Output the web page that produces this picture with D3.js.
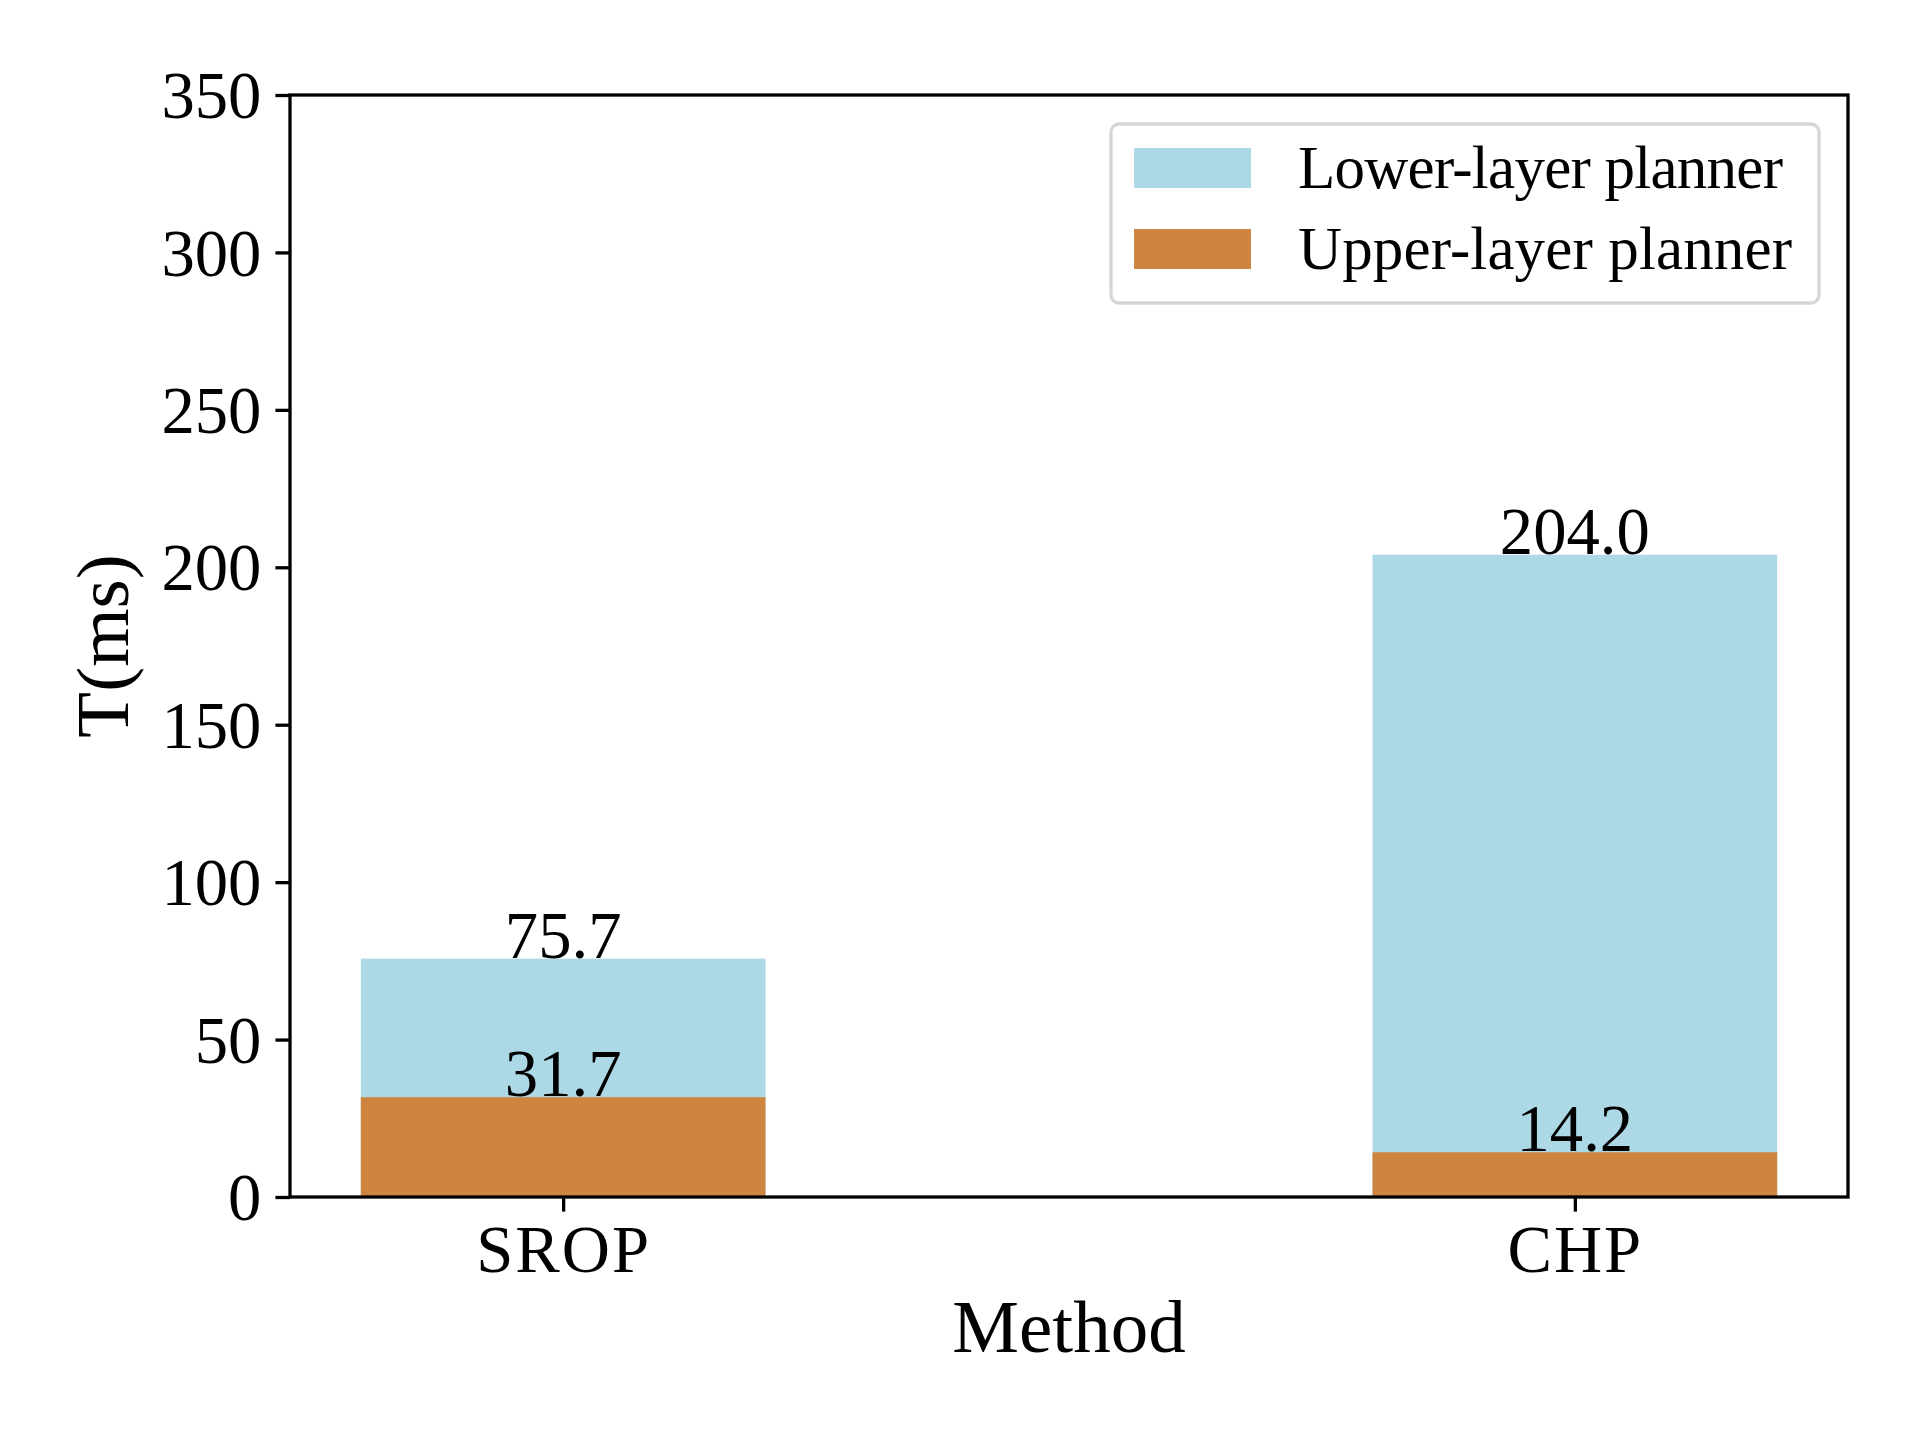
<!DOCTYPE html>
<html><head><meta charset="utf-8">
<script src="https://cdn.jsdelivr.net/npm/d3@7"></script>
<style>
html,body{margin:0;padding:0;background:#fff;}
text{font-family:"Liberation Serif","DejaVu Serif",serif;fill:#000;}
</style></head>
<body>
<script>
const categories = ["SROP", "CHP"];
const totalTime = [75.7, 204.0];      // Lower-layer planner bar (total height)
const upperTime = [31.7, 14.2];       // Upper-layer planner
const yTicks = [0, 50, 100, 150, 200, 250, 300, 350];
const seriesNames = ["Lower-layer planner", "Upper-layer planner"];
const colors = ["#ADD8E6", "#CD853F"];

const W = 1920, H = 1440;
const L = 290, R = 1848, T = 95, B = 1197;
const barW = 0.4;

const svg = d3.select("body").append("svg").attr("width", W).attr("height", H);

const x = d3.scaleLinear().domain([-0.27, 1.27]).range([L, R]);
const y = d3.scaleLinear().domain([0, 350]).range([B, T]);

// bars
const g = svg.append("g");
g.selectAll("rect.total").data(totalTime).enter().append("rect")
  .attr("x", (d,i) => x(i - barW/2)).attr("width", (d,i) => x(i + barW/2) - x(i - barW/2))
  .attr("y", d => y(d)).attr("height", d => y(0) - y(d)).attr("fill", colors[0]);
g.selectAll("rect.upper").data(upperTime).enter().append("rect")
  .attr("x", (d,i) => x(i - barW/2)).attr("width", (d,i) => x(i + barW/2) - x(i - barW/2))
  .attr("y", d => y(d)).attr("height", d => y(0) - y(d)).attr("fill", colors[1]);

// value labels
const fs = 66.7;
g.selectAll("text.tl").data(totalTime).enter().append("text")
  .attr("x", (d,i) => x(i)).attr("y", d => y(d) - 1).attr("text-anchor", "middle")
  .style("font-size", fs + "px").text(d => d.toFixed(1));
g.selectAll("text.ul").data(upperTime).enter().append("text")
  .attr("x", (d,i) => x(i)).attr("y", d => y(d) - 1).attr("text-anchor", "middle")
  .style("font-size", fs + "px").text(d => d.toFixed(1));

// axes
const sw = 3.3;
const yAxis = d3.axisLeft(y).tickValues(yTicks).tickSize(14.6).tickPadding(14).tickFormat(d3.format("d"));
const ya = svg.append("g").attr("transform", `translate(${L},0)`).call(yAxis);
ya.select(".domain").remove();
ya.selectAll(".tick line").attr("stroke", "#000").attr("stroke-width", sw);
ya.selectAll(".tick text").style("font-size", fs + "px").attr("dy", "0.34em");

const xAxis = d3.axisBottom(x).tickValues([0, 1]).tickFormat(i => categories[i]).tickSize(14.6).tickPadding(12);
const xa = svg.append("g").attr("transform", `translate(0,${B})`).call(xAxis);
xa.select(".domain").remove();
xa.selectAll(".tick line").attr("stroke", "#000").attr("stroke-width", sw);
xa.selectAll(".tick text").style("font-size", fs + "px").attr("dy", "0.72em").style("letter-spacing", "2px");

// frame
svg.append("rect").attr("x", L).attr("y", T).attr("width", R - L).attr("height", B - T)
  .attr("fill", "none").attr("stroke", "#000").attr("stroke-width", sw);

// axis labels
svg.append("text").attr("x", (L + R) / 2).attr("y", 1352).attr("text-anchor", "middle")
  .style("font-size", "75px").text("Method");
svg.append("text").attr("transform", `translate(128,${(T + B) / 2}) rotate(-90)`)
  .attr("text-anchor", "middle").style("font-size", "75px").text("T(ms)");

// legend
const lg = svg.append("g");
lg.append("rect").attr("x", 1111).attr("y", 124).attr("width", 708).attr("height", 179)
  .attr("rx", 8).attr("ry", 8).attr("fill", "#fff").attr("fill-opacity", 0.8)
  .attr("stroke", "#d6d6d6").attr("stroke-width", 3.3);
const rowsY = [148, 229];
const textLens = [485, 494];
seriesNames.forEach((n, i) => {
  lg.append("rect").attr("x", 1134).attr("y", rowsY[i]).attr("width", 117).attr("height", 40).attr("fill", colors[i]);
  lg.append("text").attr("x", 1298).attr("y", rowsY[i] + 40).style("font-size", "61px")
    .attr("textLength", textLens[i]).attr("lengthAdjust", "spacing").text(n);
});
</script>
</body></html>
